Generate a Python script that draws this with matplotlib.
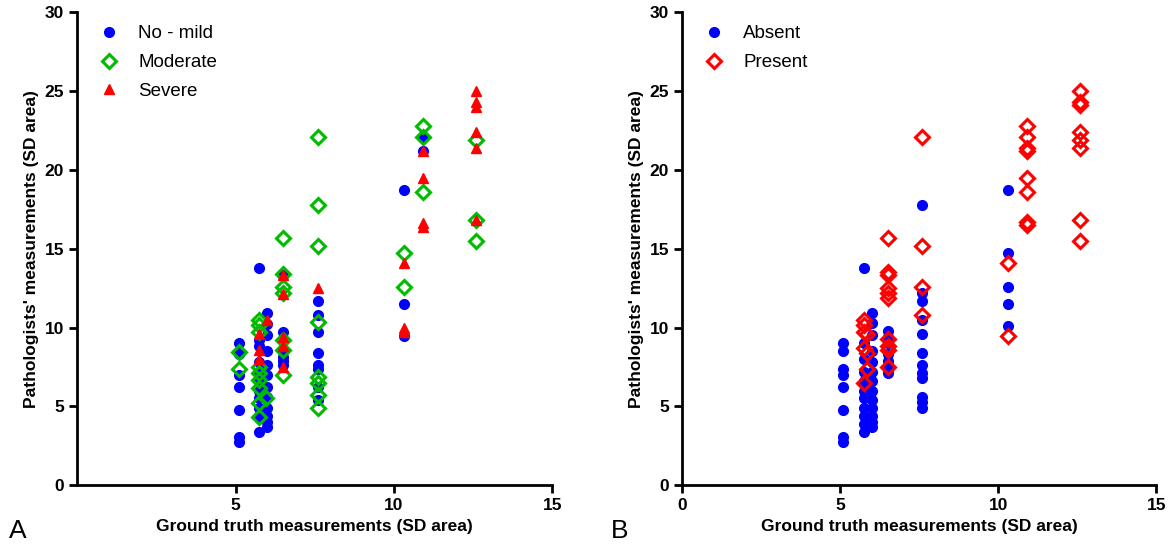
import matplotlib.pyplot as plt

plt.rcParams['font.family'] = ['Liberation Sans', 'DejaVu Sans']

# ground truth value -> pathologists' measurements, panel A
no_mild = {
    5.1: [9.0, 8.3, 7.0, 6.2, 4.75, 3.05, 2.75],
    5.75: [13.8, 9.2, 8.8, 7.8, 7.2, 6.6, 6.0, 5.5, 4.9, 4.4, 3.4],
    6.0: [10.9, 10.2, 9.5, 8.5, 7.6, 7.0, 6.2, 5.6, 4.9, 4.4, 4.0, 3.7],
    6.5: [13.3, 9.7, 8.55, 8.1, 7.9, 7.6],
    7.6: [11.7, 10.8, 9.7, 8.4, 7.6, 7.4, 6.2, 5.4],
    10.3: [18.7, 11.5, 9.45],
    10.9: [22.1, 21.2],
}
moderate = {
    5.1: [8.45, 7.4],
    5.75: [10.45, 10.15, 9.7, 7.5, 7.1, 6.7, 6.15, 5.2, 4.3],
    5.95: [5.5],
    6.5: [15.7, 13.4, 12.55, 12.2, 9.2, 8.55, 7.0],
    7.6: [22.1, 17.8, 15.2, 10.35, 6.85, 6.5, 5.7, 4.9],
    10.3: [14.7, 12.6],
    10.9: [22.8, 22.1, 18.6],
    12.6: [21.9, 16.8, 15.5],
}
severe = {
    5.75: [9.6, 8.55, 8.0],
    6.0: [10.5],
    6.5: [13.3, 12.1, 9.4, 8.8, 7.5],
    7.6: [12.5],
    10.3: [14.1, 10.0, 9.7],
    10.9: [21.2, 19.5, 16.6, 16.4],
    12.6: [25.0, 24.3, 24.0, 22.4, 21.4, 16.8],
}

# panel B
absent = {
    5.1: [9.0, 8.5, 7.4, 7.0, 6.2, 4.75, 3.05, 2.75],
    5.75: [13.8, 9.0, 8.0, 7.2, 6.6, 6.0, 5.5, 4.9, 4.4, 3.9, 3.4],
    6.0: [10.9, 10.3, 9.5, 8.5, 7.8, 7.2, 6.6, 6.0, 5.4, 4.9, 4.4, 4.0, 3.7],
    6.5: [9.8, 9.4, 9.0, 8.3, 7.9, 7.4, 7.1],
    7.6: [17.8, 12.2, 11.7, 10.5, 9.6, 8.4, 7.6, 7.1, 6.8, 5.6, 5.3, 4.9],
    10.3: [18.7, 14.7, 12.6, 11.5, 10.1],
}
present = {
    5.75: [10.45, 10.15, 9.7, 8.7, 6.5],
    5.85: [9.6, 8.4, 7.4],
    6.5: [15.7, 13.5, 13.3, 12.5, 12.2, 11.9, 9.3, 8.8, 8.55, 7.5],
    7.6: [22.1, 15.2, 12.6, 10.8],
    10.3: [14.1, 9.45],
    10.9: [22.8, 22.1, 21.4, 21.2, 19.5, 18.6, 16.7, 16.5],
    12.6: [25.0, 24.3, 24.1, 22.4, 21.9, 21.4, 16.8, 15.5],
}


def flat(d):
    xs, ys = [], []
    for gt, vals in d.items():
        for v in vals:
            xs.append(gt)
            ys.append(v)
    return xs, ys


def style(ax, xticks):
    ax.set_xlim(0, 15)
    ax.set_ylim(0, 30)
    ax.set_xticks(xticks)
    ax.set_yticks(range(0, 31, 5))
    for s in ['top', 'right']:
        ax.spines[s].set_visible(False)
    for s in ['left', 'bottom']:
        ax.spines[s].set_linewidth(2)
    ax.tick_params(width=2, length=6, labelsize=12.5)
    for lab in ax.get_xticklabels() + ax.get_yticklabels():
        lab.set_fontweight('bold')
    ax.set_xlabel('Ground truth measurements (SD area)', fontsize=12.5, fontweight='bold')
    ax.set_ylabel("Pathologists' measurements (SD area)", fontsize=12.5, fontweight='bold')
    ax.legend(loc='upper left', frameon=False, fontsize=13.5, handletextpad=0.55,
              labelspacing=0.62, borderaxespad=0.3, bbox_to_anchor=(0.0, 1.0))


fig = plt.figure(figsize=(11.68, 5.52), dpi=100)
axA = fig.add_axes([0.066, 0.121, 0.407, 0.857])
axB = fig.add_axes([0.584, 0.121, 0.406, 0.857])

blue = '#0000ff'
green = '#00bb00'
red = '#ff0000'

x, y = flat(no_mild)
axA.plot(x, y, 'o', color=blue, ms=7, mec=blue, label='No - mild', clip_on=False)
x, y = flat(moderate)
axA.plot(x, y, 'D', mfc='none', mec=green, mew=2.2, ms=7, label='Moderate', clip_on=False)
x, y = flat(severe)
axA.plot(x, y, '^', color=red, ms=7, label='Severe', clip_on=False)
style(axA, [5, 10, 15])

x, y = flat(absent)
axB.plot(x, y, 'o', color=blue, ms=7, label='Absent', clip_on=False)
x, y = flat(present)
axB.plot(x, y, 'D', mfc='none', mec=red, mew=2.2, ms=7, label='Present', clip_on=False)
style(axB, [0, 5, 10, 15])

fig.text(0.008, 0.025, 'A', fontsize=19)
fig.text(0.523, 0.025, 'B', fontsize=19)

fig.savefig('out.png', dpi=100)
